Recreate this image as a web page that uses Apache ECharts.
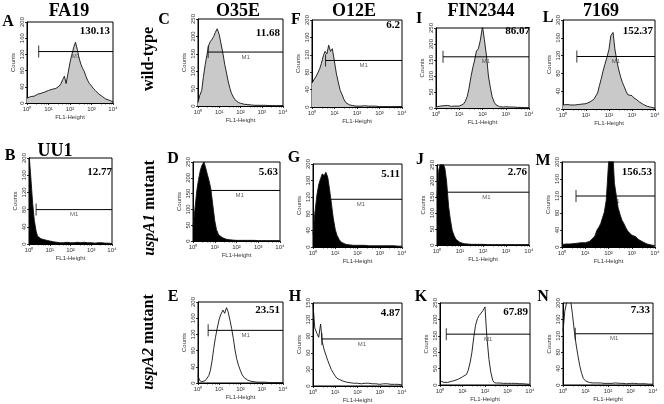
<!DOCTYPE html>
<html><head><meta charset="utf-8">
<script src="https://cdn.jsdelivr.net/npm/echarts@6/dist/echarts.min.js"></script>
<style>html,body{margin:0;padding:0;background:#fff}#c{width:664px;height:404px}</style>
</head><body><div id="c"></div>
<script>
// ---- DATA ----
const fl1 = [1,1.2,1.5,1.8,2.2,2.6,3.2,3.8,4.6,5.5,6.6,8,10,12,15,18,22,26,32,38,46,55,66,80,100,120,150,180,220,260,320,380,460,550,660,800,1000,1200,1500,1800,2200,2600,3200,3800,4600,5500,6600,8000,10000];
const xTickLabels = ['10\u2070','10\u00B9','10\u00B2','10\u00B3','10\u2074'];
const strains = ['FA19','O35E','O12E','FIN2344','7169'];
const extraStrain = 'UU1';
const rowLabels = ['wild-type','uspA1','uspA2'];
const panelLetters = ['A','B','C','D','E','F','G','H','I','J','K','L','M','N'];
const meanValues = ['130.13','12.77','11.68','5.63','23.51','6.2','5.11','4.87','86.07','2.76','67.89','152.37','156.53','7.33'];
const yMaxes = [200,200,250,250,200,200,200,150,250,250,250,200,200,200];
const yIntervals = [40,40,50,50,40,40,40,30,50,50,50,40,40,40];
const fillKinds = ['gray','black','gray','black','none','gray','black','none','gray','black','none','gray','black','none'];
// marker M1: start (FL1), level (counts)
const markerStart = [3.5,2.2,3.0,2.0,3.0,4.0,2.0,2.5,2.0,2.0,1.9,4.0,4.0,3.5];
const markerLevel = [127,80,155,160,130,107,115,85,160,165,155,118,120,125];
const countsA = [12,15,16,18,17,20,22,21,24,26,27,29,31,30,34,35,36,40,42,48,58,66,48,72,100,118,138,150,132,112,96,86,78,66,56,48,42,36,31,27,22,19,16,13,10,8,7,5,3];
const countsB = [210,160,95,55,30,18,14,12,11,10,9,8,7,6,5,5,4,4,3,4,3,3,4,3,3,4,3,3,4,3,3,3,4,3,3,3,3,3,2,3,3,2,3,2,2,2,2,2,1];
const countsC = [10,30,45,85,120,145,175,185,192,200,212,222,205,180,150,120,95,72,50,36,26,18,13,10,8,6,5,5,4,3,3,3,2,3,2,2,2,2,2,2,1,2,1,1,1,1,1,1,1];
const countsD = [45,95,160,195,225,240,250,232,210,190,165,118,64,36,20,14,11,8,6,5,4,3,3,3,2,2,2,2,2,2,2,2,2,1,2,1,1,1,1,1,1,1,1,1,1,1,1,1,1];
const countsE = [18,6,3,4,6,9,18,30,55,85,112,135,158,170,180,172,186,176,155,135,110,82,60,44,30,20,13,9,7,5,4,4,3,3,2,3,2,2,2,2,1,2,1,1,1,1,1,1,1];
const countsF = [55,62,70,78,88,100,118,128,122,142,128,134,104,78,55,38,28,18,10,7,5,4,3,3,2,3,2,2,3,2,2,2,2,1,2,1,1,2,1,1,1,1,1,1,1,1,1,1,1];
const countsG = [30,80,125,150,165,176,172,180,168,140,108,72,42,28,18,12,10,8,6,6,5,5,4,4,4,3,4,3,4,3,3,4,3,3,3,4,3,3,3,3,3,2,3,2,3,2,2,2,2];
const countsH = [148,105,95,88,112,80,65,56,46,38,30,24,18,14,12,10,9,8,7,7,6,6,5,6,5,5,4,5,5,4,5,4,4,5,4,4,3,4,4,3,4,3,3,4,3,3,3,3,2];
const countsI = [3,5,6,5,7,6,8,6,5,7,6,5,6,8,12,20,36,60,98,125,150,178,185,210,255,215,160,100,62,35,18,10,6,4,5,3,4,3,3,2,3,2,2,2,2,1,1,1,1];
const countsJ = [150,235,262,255,240,200,120,80,45,30,18,12,8,6,4,3,3,2,2,2,2,2,2,2,2,2,1,2,1,1,1,1,1,1,1,1,1,1,1,1,1,1,1,1,1,1,1,1,1];
const countsK = [13,10,8,9,8,10,11,12,14,16,18,21,25,28,32,45,70,98,148,182,202,212,216,226,238,150,78,40,14,7,6,8,6,7,5,6,5,6,5,4,5,4,4,3,4,3,3,2,2];
const countsL = [9,13,10,8,9,7,9,8,10,9,11,10,12,14,16,19,22,25,36,52,68,85,100,115,134,165,172,135,108,90,72,60,50,40,32,28,30,25,22,18,15,12,10,8,6,5,4,3,2];
const countsM = [6,8,7,8,7,9,8,7,9,8,10,9,10,11,13,16,21,26,40,46,55,68,82,110,196,240,230,150,118,92,75,63,55,46,38,33,28,27,24,19,16,13,11,9,7,6,5,4,3];
const countsN = [130,180,205,210,205,175,130,100,72,48,30,16,10,8,6,5,5,4,5,4,5,4,4,5,4,5,4,4,5,4,4,5,4,4,3,4,4,3,4,3,3,3,3,2,3,2,2,2,2];
const allCounts = [countsA,countsB,countsC,countsD,countsE,countsF,countsG,countsH,countsI,countsJ,countsK,countsL,countsM,countsN];

// ---- LAYOUT (positions / styles) ----
const rects = [
  [27,22,86,81],[29,158,83,86],[198,19,85,87],[193,162,87,79],[198,302,85,81],
  [312,20,90,87],[313,164,89,83],[313,303,89,84],[436,28,93,80],[437,165,92,80],
  [440,303,90,82],[563,20,92,89],[562,162,93,85],[563,303,90,82]
];
const letterPos = [[8,22],[10,156],[164,20],[173,159],[173,297],[296,20],[294,158],[295,297],[419,19],[420,160],[421,297],[548,18],[543,161],[543,297]];
const valuePos = [[110,31],[112,172],[280,33],[278,172],[280,310],[400,25],[400,174],[400,313],[530,31],[527,172],[528,312],[653,31],[652,172],[650,310]];
const titlePos = [[69,11],[238,11],[354,11],[481,11],[601,11]];
const fillColors = {gray:'#c9c9c9', black:'#000000'};
const markerOnTop = {gray:true, black:false, none:true};
const serif = '"Liberation Serif", "Times New Roman", serif';
const sans = '"Liberation Sans", Arial, sans-serif';

const grids=[], xAxes=[], yAxes=[], series=[], graphics=[];
rects.forEach((r,i)=>{
  grids.push({left:r[0], top:r[1], width:r[2], height:r[3], show:true, borderColor:'#000', borderWidth:1, backgroundColor:'transparent'});
  xAxes.push({gridIndex:i, type:'log', logBase:10, min:1, max:10000,
    axisLine:{show:true, lineStyle:{color:'#000', width:1}},
    axisTick:{show:true, length:2, lineStyle:{color:'#000', width:0.8}},
    minorTick:{show:true, length:1.5, splitNumber:5, lineStyle:{color:'#000', width:0.6}},
    splitLine:{show:false},
    axisLabel:{fontSize:6, margin:3, color:'#333', fontFamily:sans,
      formatter:(v)=>xTickLabels[Math.round(Math.log10(v))] || ''},
    name:'FL1-Height', nameLocation:'middle', nameGap:11,
    nameTextStyle:{fontSize:6, color:'#333', fontFamily:sans}});
  yAxes.push({gridIndex:i, type:'value', min:0, max:yMaxes[i], interval:yIntervals[i],
    axisLine:{show:true, lineStyle:{color:'#000', width:1}},
    axisTick:{show:true, length:2, lineStyle:{color:'#000', width:0.8}},
    splitLine:{show:false},
    axisLabel:{fontSize:6, margin:2, rotate:90, color:'#333', fontFamily:sans},
    name:'Counts', nameLocation:'middle', nameGap:11, nameRotate:90,
    nameTextStyle:{fontSize:6, color:'#333', fontFamily:sans}});
  const kind = fillKinds[i];
  const hist = {type:'line', xAxisIndex:i, yAxisIndex:i, symbol:'none', silent:true, z:3,
    data: fl1.map((x,k)=>[x, allCounts[i][k]]),
    lineStyle:{color:'#111', width:0.9}};
  if (kind !== 'none') hist.areaStyle = {color:fillColors[kind], opacity:1};
  series.push(hist);
  const mz = markerOnTop[kind] ? 4 : 2;
  const x0 = markerStart[i], lv = markerLevel[i];
  series.push({type:'line', xAxisIndex:i, yAxisIndex:i, symbol:'none', silent:true, z:mz,
    data:[[x0,lv],[10000,lv]], lineStyle:{color:'#000', width:1}});
  series.push({type:'scatter', xAxisIndex:i, yAxisIndex:i, silent:true, z:mz,
    data:[
      {value:[x0,lv], symbol:'rect', symbolSize:[1,12], itemStyle:{color:'#000'}},
      {value:[Math.sqrt(x0*10000),lv], symbolSize:0, itemStyle:{color:'transparent'},
        label:{show:true, formatter:'M1', position:'bottom', distance:2, fontSize:6, color:'#333', fontFamily:sans}}
    ]});
  graphics.push({type:'text', x:letterPos[i][0], y:letterPos[i][1], z:10,
    style:{text:panelLetters[i], fontSize:16, fontWeight:'bold', fontFamily:serif, fill:'#000', align:'center', verticalAlign:'middle'}});
  graphics.push({type:'text', x:valuePos[i][0], y:valuePos[i][1], z:10,
    style:{text:meanValues[i], fontSize:11, fontWeight:'bold', fontFamily:serif, fill:'#000', align:'right', verticalAlign:'middle'}});
});
strains.forEach((s,i)=>{
  graphics.push({type:'text', x:titlePos[i][0], y:titlePos[i][1],
    style:{text:s, fontSize:18, fontWeight:'bold', fontFamily:serif, fill:'#000', align:'center', verticalAlign:'middle'}});
});
graphics.push({type:'text', x:55, y:151,
  style:{text:extraStrain, fontSize:18, fontWeight:'bold', fontFamily:serif, fill:'#000', align:'center', verticalAlign:'middle'}});
const rowPos = [[149,59],[150,208],[149,342]];
graphics.push({type:'text', x:rowPos[0][0], y:rowPos[0][1], rotation:Math.PI/2,
  style:{text:rowLabels[0], fontSize:16, fontWeight:'bold', fontFamily:serif, fill:'#000', align:'center', verticalAlign:'middle'}});
[1,2].forEach(j=>{
  graphics.push({type:'text', x:rowPos[j][0], y:rowPos[j][1], rotation:Math.PI/2,
    style:{text:'{i|'+rowLabels[j]+'}{n| mutant}', align:'center', verticalAlign:'middle', fill:'#000',
      fontSize:16, fontWeight:'bold', fontFamily:serif,
      rich:{i:{fontSize:16, fontWeight:'bold', fontStyle:'italic', fontFamily:serif, fill:'#000'},
            n:{fontSize:16, fontWeight:'bold', fontFamily:serif, fill:'#000'}}}});
});

const chart = echarts.init(document.getElementById('c'), null, {renderer:'canvas'});
chart.setOption({animation:false, backgroundColor:'#fff', grid:grids, xAxis:xAxes, yAxis:yAxes, series:series, graphic:graphics});
</script></body></html>
